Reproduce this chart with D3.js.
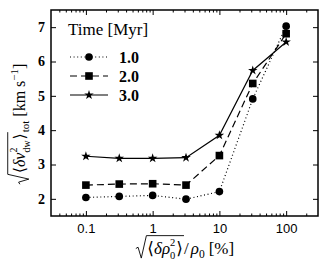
<!DOCTYPE html>
<html>
<head>
<meta charset="utf-8">
<script src="https://cdn.jsdelivr.net/npm/d3@7"></script>
<style>
  body { margin: 0; background: #fff; }
  svg { display: block; }
</style>
</head>
<body>
<script>
// chart size
const width = 328;
const height = 274;
const margin = { top: 10, right: 10, bottom: 58, left: 51 };
const serif = '"Liberation Serif", "DejaVu Serif", serif';
const sans = '"Liberation Sans", Arial, sans-serif';

// data
const fractions = [0.1, 0.316, 1, 3.16, 10, 31.6, 100];
const times = ['1.0', '2.0', '3.0'];
const v10 = [2.04, 2.07, 2.1, 1.99, 2.21, 4.91, 7.03];
const v20 = [2.4, 2.43, 2.44, 2.4, 3.26, 5.36, 6.81];
const v30 = [3.24, 3.18, 3.18, 3.2, 3.85, 5.74, 6.57];
const xTicks = [0.1, 1, 10, 100];
const yTicks = [2, 3, 4, 5, 6, 7];

const series = [
  { name: times[0], values: v10, dash: '1,2.6', symbol: d3.symbolCircle, size: 46 },
  { name: times[1], values: v20, dash: '7,4', symbol: d3.symbolSquare, size: 58 },
  { name: times[2], values: v30, dash: null, symbol: d3.symbolStar, size: 28 }
];

const svg = d3.select('body')
  .append('svg')
  .attr('width', width)
  .attr('height', height);

const x = d3.scaleLog()
  .domain([0.03, 300])
  .range([margin.left, width - margin.right]);

const y = d3.scaleLinear()
  .domain([1.5, 7.5])
  .range([height - margin.bottom, margin.top]);

// minor ticks of the log axis
const minor = [];
for (let e = -2; e <= 2; e++) {
  for (let k = 2; k <= 9; k++) {
    const v = k * Math.pow(10, e);
    if (v > 0.03 && v < 300) minor.push(v);
  }
}

function clean(g) {
  g.select('.domain').remove();
  g.selectAll('line').attr('stroke', '#000').attr('stroke-width', 1);
}

// x axis, bottom + top
svg.append('g')
  .attr('transform', `translate(0,${height - margin.bottom})`)
  .call(d3.axisBottom(x).tickValues(xTicks).tickFormat(d3.format('~g')).tickSize(-5).tickPadding(8))
  .call(clean)
  .call(g => g.selectAll('text').attr('font-family', sans).attr('font-size', 13).attr('fill', '#000'));
svg.append('g')
  .attr('transform', `translate(0,${height - margin.bottom})`)
  .call(d3.axisBottom(x).tickValues(minor).tickFormat('').tickSize(-2.5))
  .call(clean);
svg.append('g')
  .attr('transform', `translate(0,${margin.top})`)
  .call(d3.axisTop(x).tickValues(xTicks).tickFormat('').tickSize(-5))
  .call(clean);
svg.append('g')
  .attr('transform', `translate(0,${margin.top})`)
  .call(d3.axisTop(x).tickValues(minor).tickFormat('').tickSize(-2.5))
  .call(clean);

// y axis, left + right
svg.append('g')
  .attr('transform', `translate(${margin.left},0)`)
  .call(d3.axisLeft(y).tickValues(yTicks).tickFormat(d3.format('d')).tickSize(-5).tickPadding(6))
  .call(clean)
  .call(g => g.selectAll('text').attr('font-family', serif).attr('font-weight', 'bold')
    .attr('font-size', 14).attr('fill', '#000'));
svg.append('g')
  .attr('transform', `translate(${width - margin.right},0)`)
  .call(d3.axisRight(y).tickValues(yTicks).tickFormat('').tickSize(-5))
  .call(clean);

// frame
svg.append('rect')
  .attr('x', margin.left)
  .attr('y', margin.top)
  .attr('width', width - margin.left - margin.right)
  .attr('height', height - margin.top - margin.bottom)
  .attr('fill', 'none')
  .attr('stroke', '#000')
  .attr('stroke-width', 1.5);

// lines and markers
const line = d3.line()
  .x((d, i) => x(fractions[i]))
  .y(d => y(d));

series.forEach(s => {
  svg.append('path')
    .datum(s.values)
    .attr('d', line)
    .attr('fill', 'none')
    .attr('stroke', '#000')
    .attr('stroke-width', 1.2)
    .attr('stroke-dasharray', s.dash);
  svg.append('g')
    .selectAll('path')
    .data(s.values)
    .join('path')
    .attr('transform', (d, i) => `translate(${x(fractions[i])},${y(d)})`)
    .attr('d', d3.symbol(s.symbol, s.size))
    .attr('fill', '#000');
});

// legend
const legend = svg.append('g').attr('transform', 'translate(68,0)');
legend.append('text')
  .attr('x', 0)
  .attr('y', 35)
  .attr('font-family', serif)
  .attr('font-size', 17)
  .text('Time [Myr]');
series.forEach((s, i) => {
  const ry = 57 + i * 19;
  legend.append('line')
    .attr('x1', 2).attr('x2', 40)
    .attr('y1', ry).attr('y2', ry)
    .attr('stroke', '#000')
    .attr('stroke-width', 1.2)
    .attr('stroke-dasharray', s.dash);
  legend.append('path')
    .attr('transform', `translate(21,${ry})`)
    .attr('d', d3.symbol(s.symbol, s.size))
    .attr('fill', '#000');
  legend.append('text')
    .attr('x', 51)
    .attr('y', ry + 6)
    .attr('font-family', serif)
    .attr('font-weight', 'bold')
    .attr('font-size', 16)
    .text(s.name);
});

// math labels: one text element, pieces placed as tspans
function layout(g, text, x0, items, fs) {
  let cx = x0;
  for (const it of items) {
    if (it.radical) {
      const xs = cx + fs * 0.62;
      const xe = layout(g, text, xs + 1, it.radical, fs) + 1;
      g.append('path')
        .attr('d', `M${cx},${-fs * 0.32} L${cx + fs * 0.13},${-fs * 0.4} L${cx + fs * 0.32},${fs * 0.24} L${xs},${-fs * 1.08} H${xe}`)
        .attr('fill', 'none')
        .attr('stroke', '#000')
        .attr('stroke-width', 0.9);
      cx = xe;
      continue;
    }
    if (it.sup !== undefined) {
      // stacked super- and subscript
      const a = text.append('tspan').attr('x', cx).attr('y', -fs * 0.48)
        .attr('font-size', fs * 0.62).text(it.sup);
      const b = text.append('tspan').attr('x', cx).attr('y', fs * 0.3)
        .attr('font-size', fs * 0.62).text(it.sub);
      cx += Math.max(a.node().getComputedTextLength(), b.node().getComputedTextLength()) + 1;
      continue;
    }
    const t = text.append('tspan')
      .attr('x', cx)
      .attr('y', it.dy ? it.dy * fs : 0)
      .attr('font-size', it.small ? fs * 0.68 : fs)
      .attr('font-style', it.it ? 'italic' : 'normal')
      .text(it.t);
    cx += t.node().getComputedTextLength() + (it.gap || 0);
  }
  return cx;
}

function mathLabel(items, fs) {
  const g = svg.append('g');
  const text = g.append('text')
    .attr('font-family', serif)
    .attr('font-size', fs)
    .attr('fill', '#000');
  const w = layout(g, text, 0, items, fs);
  return { g, w };
}

// x label
const xl = mathLabel([
  { radical: [
    { t: '\u27E8' },
    { t: '\u03B4\u03C1', it: true },
    { sup: '2', sub: '0' },
    { t: '\u27E9' }
  ] },
  { t: '/', gap: 2 },
  { t: '\u03C1', it: true },
  { t: '0', small: true, dy: 0.22, gap: 4 },
  { t: '[%]' }
], 17);
xl.g.attr('transform', `translate(${185 - xl.w / 2},254)`);

// y label
const yl = mathLabel([
  { radical: [
    { t: '\u27E8' },
    { t: '\u03B4v', it: true },
    { sup: '2', sub: 'dw' },
    { t: '\u27E9' }
  ] },
  { t: 'tot', small: true, dy: 0.22, gap: 4 },
  { t: '[km', gap: 4 },
  { t: 's' },
  { t: '\u22121', small: true, dy: -0.42 },
  { t: ']' }
], 16);
yl.g.attr('transform', `translate(25,${124 + yl.w / 2}) rotate(-90)`);
</script>
</body>
</html>
